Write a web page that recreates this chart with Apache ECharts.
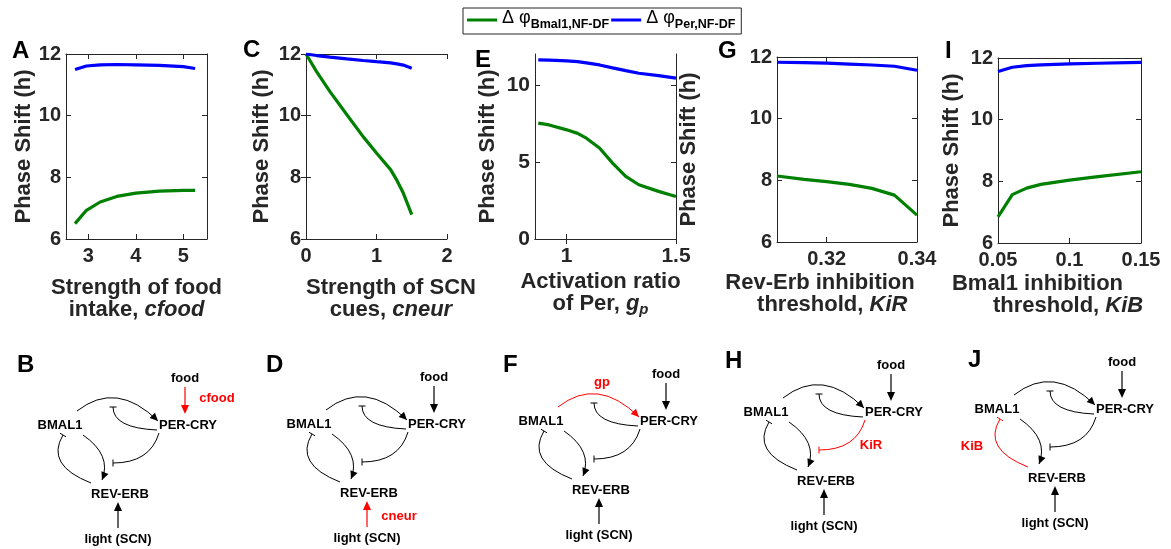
<!DOCTYPE html>
<html>
<head>
<meta charset="utf-8">
<script src="https://cdn.jsdelivr.net/npm/echarts@6/dist/echarts.min.js"></script>
<style>
html, body { margin: 0; padding: 0; background: #fff; }
#chart { width: 1171px; height: 549px; }
</style>
</head>
<body>
<div id="chart"></div>
<script>
// A: strength of food intake
const cfood = [2.72, 2.96, 3.25, 3.6, 4.0, 4.5, 5.0, 5.25];
const cfoodBmal1 = [6.5, 6.93, 7.2, 7.38, 7.49, 7.55, 7.58, 7.58];
const cfoodPer = [11.5, 11.61, 11.65, 11.66, 11.65, 11.63, 11.59, 11.53];
// C: strength of SCN cues
const cneur = [0, 0.15, 0.34, 0.58, 0.81, 1.0, 1.2, 1.29, 1.38, 1.5];
const cneurBmal1 = [12, 11.43, 10.78, 10.03, 9.32, 8.79, 8.25, 7.9, 7.49, 6.79];
const cneurPer = [12, 11.95, 11.9, 11.84, 11.79, 11.75, 11.71, 11.68, 11.64, 11.54];
// E: activation ratio of Per
const gp = [0.87, 0.92, 1.0, 1.05, 1.09, 1.15, 1.21, 1.27, 1.33, 1.42, 1.5];
const gpBmal1 = [7.52, 7.4, 7.08, 6.85, 6.54, 5.9, 4.92, 4.06, 3.52, 3.09, 2.76];
const gpPer = [11.62, 11.6, 11.55, 11.5, 11.42, 11.29, 11.1, 10.92, 10.75, 10.6, 10.43];
// G: Rev-Erb inhibition threshold
const kiR = [0.309, 0.315, 0.32, 0.325, 0.33, 0.335, 0.34];
const kiRBmal1 = [8.14, 8.03, 7.96, 7.87, 7.74, 7.52, 6.87];
const kiRPer = [11.83, 11.82, 11.8, 11.77, 11.74, 11.7, 11.57];
// I: Bmal1 inhibition threshold
const kiB = [0.05, 0.06, 0.07, 0.08, 0.1, 0.12, 0.15];
const kiBBmal1 = [6.85, 7.57, 7.78, 7.9, 8.04, 8.15, 8.31];
const kiBPer = [11.56, 11.7, 11.75, 11.78, 11.81, 11.83, 11.86];

const seriesNames = ['bmal1', 'per'];
const seriesSubs = { bmal1: 'Bmal1,NF-DF', per: 'Per,NF-DF' };
const seriesColors = { bmal1: '#008000', per: '#0000ff' };

const GRAY = '#262626';
const FONT = '"Liberation Sans", Arial, Helvetica, sans-serif';

const nameRich = {
  t: { fontSize: 22, fontWeight: 'bold', color: GRAY, fontFamily: FONT, lineHeight: 22 },
  i: { fontSize: 22, fontWeight: 'bold', fontStyle: 'italic', color: GRAY, fontFamily: FONT, lineHeight: 22 },
  s: { fontSize: 15, fontWeight: 'bold', fontStyle: 'italic', color: GRAY, fontFamily: FONT, lineHeight: 22, padding: [12, 0, 0, 0] }
};

const charts = [
  { x: cfood, a: cfoodBmal1, b: cfoodPer, grid: { left: 66, top: 54, width: 141, height: 185 },
    xr: [2.53, 5.5], xt: [3, 4, 5], yr: [6, 12], yt: [6, 8, 10, 12], yGap: 29, fs: 20,
    xName: '{t|Strength of food}\n{t|intake, }{i|cfood}', xGap: 38, xPad: [0, 0, 0, 0] },
  { x: cneur, a: cneurBmal1, b: cneurPer, grid: { left: 306, top: 54, width: 141, height: 185 },
    xr: [0, 2], xt: [0, 1, 2], yr: [6, 12], yt: [6, 8, 10, 12], yGap: 33, fs: 20,
    xName: '{t|Strength of SCN}\n{t|cues, }{i|cneur}', xGap: 38, xPad: [0, 0, 0, 29] },
  { x: gp, a: gpBmal1, b: gpPer, grid: { left: 535, top: 54, width: 141, height: 185 },
    xr: [0.855, 1.5], xt: [1, 1.5], yr: [0, 12], yt: [0, 5, 10], yGap: 36, fs: 21,
    xName: '{t|Activation ratio}\n{t|of Per, }{i|g}{s|p}', xGap: 32, xPad: [0, 10, 0, 0] },
  { x: kiR, a: kiRBmal1, b: kiRPer, grid: { left: 777, top: 57, width: 140, height: 185 },
    xr: [0.309, 0.34], xt: [0.32, 0.34], yr: [6, 12], yt: [6, 8, 10, 12], yGap: 77, fs: 20,
    xName: '{t|Rev-Erb inhibition}\n{t|    threshold, }{i|KiR}', xGap: 30, xPad: [0, 54, 0, 0] },
  { x: kiB, a: kiBBmal1, b: kiBPer, grid: { left: 998, top: 58, width: 143, height: 185 },
    xr: [0.05, 0.15], xt: [0.05, 0.1, 0.15], yr: [6, 12], yt: [6, 8, 10, 12], yGap: 35, fs: 20,
    xName: '{t|Bmal1 inhibition}\n{t|          threshold, }{i|KiB}', xGap: 30, xPad: [0, 64, 0, 0] }
];

const lineAx = { show: true, lineStyle: { color: GRAY, width: 1 } };

const grids = [], xAxes = [], yAxes = [], series = [];
charts.forEach((c, gi) => {
  const tickLabel = { color: GRAY, fontSize: c.fs, fontWeight: 'bold', fontFamily: FONT };
  grids.push(Object.assign({ containLabel: false }, c.grid));
  // bottom x axis with labels, top x axis as the box edge
  xAxes.push({
    type: 'value', gridIndex: gi, position: 'bottom', min: c.xr[0], max: c.xr[1],
    axisLine: lineAx, splitLine: { show: false },
    axisTick: { inside: true, length: 5, lineStyle: { color: GRAY }, customValues: c.xt },
    axisLabel: Object.assign({ margin: 7, customValues: c.xt }, tickLabel),
    name: c.xName, nameLocation: 'middle', nameGap: c.xGap,
    nameTextStyle: { rich: nameRich, padding: c.xPad, align: 'center' }
  });
  xAxes.push({
    type: 'value', gridIndex: gi, position: 'top', min: c.xr[0], max: c.xr[1],
    axisLine: lineAx, splitLine: { show: false }, axisLabel: { show: false },
    axisTick: { inside: true, length: 5, lineStyle: { color: GRAY }, customValues: c.xt }
  });
  yAxes.push({
    type: 'value', gridIndex: gi, position: 'left', min: c.yr[0], max: c.yr[1],
    axisLine: lineAx, splitLine: { show: false },
    axisTick: { inside: true, length: 5, lineStyle: { color: GRAY }, customValues: c.yt },
    axisLabel: Object.assign({ margin: 5, customValues: c.yt }, tickLabel),
    name: 'Phase Shift (h)', nameLocation: 'middle', nameGap: c.yGap,
    nameTextStyle: { color: GRAY, fontSize: 22, fontWeight: 'bold', fontFamily: FONT }
  });
  yAxes.push({
    type: 'value', gridIndex: gi, position: 'right', min: c.yr[0], max: c.yr[1],
    axisLine: lineAx, splitLine: { show: false }, axisLabel: { show: false },
    axisTick: { inside: true, length: 5, lineStyle: { color: GRAY }, customValues: c.yt }
  });
  [c.a, c.b].forEach((vals, si) => {
    const nm = seriesNames[si];
    series.push({
      name: nm, type: 'line', xAxisIndex: gi * 2, yAxisIndex: gi * 2,
      showSymbol: false, symbol: 'none', animation: false,
      lineStyle: { width: 3.2, color: seriesColors[nm] },
      itemStyle: { color: seriesColors[nm] },
      data: c.x.map((v, k) => [v, vals[k]])
    });
  });
});

// ---- network schematics (B, D, F, H, J) ----
const INK = '#000';
const RED = '#ff0000';

function arrowHead(tip, from, color, L, W) {
  const dx = tip[0] - from[0], dy = tip[1] - from[1];
  const len = Math.hypot(dx, dy);
  const ux = dx / len, uy = dy / len;
  const bx = tip[0] - ux * L, by = tip[1] - uy * L;
  return { type: 'polygon', shape: { points: [tip, [bx - uy * W, by + ux * W], [bx + uy * W, by - ux * W]] },
    style: { fill: color, stroke: null } };
}
function tBar(tip, from, color) {
  const dx = tip[0] - from[0], dy = tip[1] - from[1];
  const len = Math.hypot(dx, dy);
  const nx = -dy / len * 3.5, ny = dx / len * 3.5;
  return { type: 'line', shape: { x1: tip[0] + nx, y1: tip[1] + ny, x2: tip[0] - nx, y2: tip[1] - ny },
    style: { stroke: color, lineWidth: 1 } };
}
function curve(p0, c, p2, kind, color) {
  return [
    { type: 'bezierCurve', shape: { x1: p0[0], y1: p0[1], x2: p2[0], y2: p2[1], cpx1: c[0], cpy1: c[1] },
      style: { stroke: color, lineWidth: 1, fill: null } },
    kind === 'act' ? arrowHead(p2, c, color, 8, 3.8) : tBar(p2, c, color)
  ];
}
function straight(p0, p2, color) {
  return [
    { type: 'line', shape: { x1: p0[0], y1: p0[1], x2: p2[0], y2: p2[1] + (p2[1] > p0[1] ? -4 : 4) },
      style: { stroke: color, lineWidth: 1.2 } },
    arrowHead(p2, p0, color, 9, 4)
  ];
}
function txt(s, x, y, color) {
  return { type: 'text', x: x, y: y,
    style: { text: s, fill: color, fontSize: 13, fontWeight: 'bold', fontFamily: FONT, align: 'center', verticalAlign: 'middle' } };
}
function panel(dx, dy, hl, tag, tagPos) {
  const col = k => (k === hl ? RED : INK);
  let kids = [
    txt('food', 185, 378, INK), txt('BMAL1', 60, 425, INK), txt('PER-CRY', 188, 425, INK),
    txt('REV-ERB', 120, 494, INK), txt('light (SCN)', 118, 539, INK)
  ];
  kids = kids.concat(
    straight([185, 387], [185, 414], col('food')),
    straight([118, 528], [118, 502], col('light')),
    curve([77, 411], [116.5, 380], [158, 421], 'act', col('actBP')),
    curve([157, 430], [113, 428], [113, 407], 'inh', col('inhPB')),
    curve([159, 433], [150, 463], [113, 463], 'inh', col('inhPR')),
    curve([83, 435], [112, 455], [102, 480], 'act', col('actBR')),
    curve([91, 483], [45, 465], [63, 435], 'inh', col('inhRB'))
  );
  kids.push(txt(tag, tagPos[0], tagPos[1], RED));
  return { type: 'group', x: dx, y: dy, children: kids };
}

function letter(s, x, capTop) {
  return { type: 'text', x: x, y: capTop - 4,
    style: { text: s, fill: '#000', fontSize: 24, fontWeight: 'bold', fontFamily: FONT, align: 'left', verticalAlign: 'top' } };
}

const graphic = [
  letter('A', 12, 43), letter('C', 243, 42), letter('E', 475, 52), letter('G', 718, 43), letter('I', 945, 43),
  letter('B', 17, 357), letter('D', 266, 357), letter('F', 503, 357), letter('H', 725, 353), letter('J', 968, 352),
  panel(0, 0, 'food', 'cfood', [217, 398]),
  panel(249, -1, 'light', 'cneur', [150, 517]),
  panel(481, -4, 'actBP', 'gp', [121, 386]),
  panel(706, -13, 'inhPR', 'KiR', [165, 458]),
  panel(937, -16, 'inhRB', 'KiB', [35, 462])
];

const chart = echarts.init(document.getElementById('chart'));
chart.setOption({
  animation: false,
  backgroundColor: '#fff',
  legend: {
    data: seriesNames, left: 463, top: 8, icon: 'rect', itemWidth: 30, itemHeight: 3, itemGap: 2,
    borderColor: GRAY, borderWidth: 1, padding: [1, 6, 3, 4],
    formatter: nm => '{d|Δ φ}{s|' + seriesSubs[nm] + '}',
    textStyle: {
      rich: {
        d: { fontSize: 18, color: '#000', fontFamily: FONT, verticalAlign: 'top', lineHeight: 22 },
        s: { fontSize: 12.5, fontWeight: 'bold', color: '#000', fontFamily: FONT, verticalAlign: 'bottom', lineHeight: 22, padding: [6, 0, 0, 0] }
      }
    }
  },
  grid: grids,
  xAxis: xAxes,
  yAxis: yAxes,
  series: series,
  graphic: graphic
});
</script>
</body>
</html>
